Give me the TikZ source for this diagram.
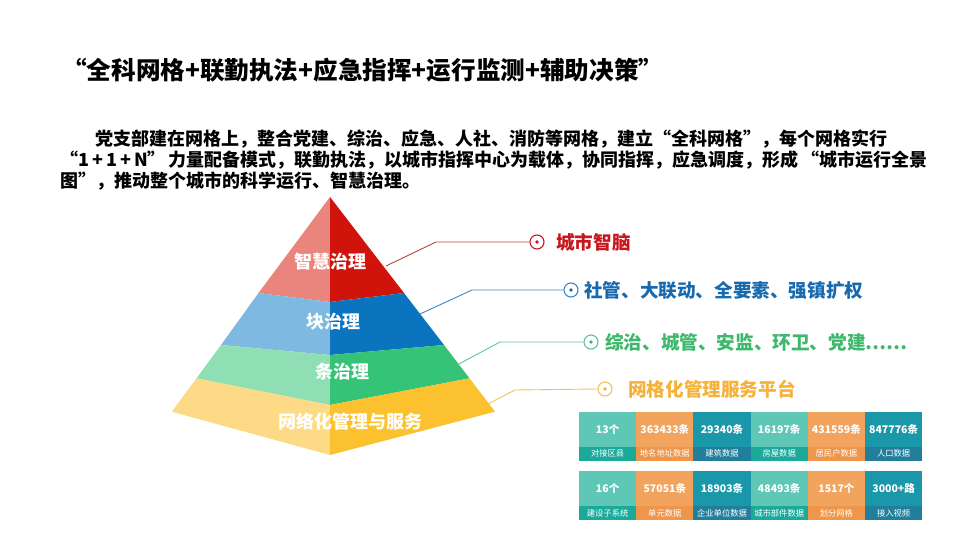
\documentclass[tikz,border=0pt]{standalone}
\usepackage{fontspec}
\setmainfont{Noto Sans CJK SC}
\definecolor{redL}{HTML}{E9857C}
\definecolor{redR}{HTML}{D0140C}
\definecolor{bluL}{HTML}{7DB9E0}
\definecolor{bluR}{HTML}{0A74BF}
\definecolor{grnL}{HTML}{90DEB3}
\definecolor{grnR}{HTML}{35C377}
\definecolor{ylwL}{HTML}{FDDB86}
\definecolor{ylwR}{HTML}{FBC12E}
\definecolor{redT}{HTML}{C8161D}
\definecolor{bluT}{HTML}{1769B0}
\definecolor{grnT}{HTML}{3DB86C}
\definecolor{ylwT}{HTML}{F4B23A}
\definecolor{redLn}{HTML}{B9433C}
\definecolor{bluLn}{HTML}{3C88C6}
\definecolor{grnLn}{HTML}{5EC49C}
\definecolor{ylwLn}{HTML}{F5C05A}
\definecolor{tA}{HTML}{5EC7B6}
\definecolor{tAd}{HTML}{1BA99A}
\definecolor{tB}{HTML}{F2A35E}
\definecolor{tBd}{HTML}{EE974C}
\definecolor{tC}{HTML}{1A98AA}
\definecolor{tCd}{HTML}{217F9C}
\begin{document}
\begin{tikzpicture}[x=1pt,y=-1pt,
  ptxt/.style={anchor=west,inner sep=0pt,font=\fontsize{18}{20}\selectfont\bfseries},
  layertxt/.style={text=white,inner sep=0pt,font=\fontsize{18}{20}\selectfont\bfseries},
  ring/.style={circle,draw=#1,line width=1.1pt,fill=white,minimum size=14pt,inner sep=0pt},
  sidetxt/.style={anchor=west,inner sep=0pt,text=#1,font=\fontsize{18.6}{20}\selectfont\bfseries},
  conn/.style={draw=#1,line width=0.9pt},
  cellnum/.style={minimum width=57.2pt,minimum height=35pt,inner sep=0pt,text=white,font=\fontsize{10.5}{12}\selectfont\bfseries},
  celllab/.style={minimum width=57.2pt,minimum height=14pt,inner sep=0pt,text=white,font=\fontsize{8.3}{9}\selectfont}
]
\useasboundingbox (0,0) rectangle (960,540);
\fill[white] (0,0) rectangle (960,540);

% title
\node[anchor=west,inner sep=0pt,font=\fontsize{24.6}{28}\selectfont\bfseries] (title) at (62,70)
  {“全科网格+联勤执法+应急指挥+运行监测+辅助决策”};

% paragraph
\node[ptxt] (p1) at (95,139) {党支部建在网格上，整合党建、综治、应急、人社、消防等网格，建立“全科网格”，每个网格实行};
\node[ptxt] (p2) at (60,160) {“1\,+\,1\,+\,N”\,力量配备模式，联勤执法，以城市指挥中心为载体，协同指挥，应急调度，形成\,“城市运行全景};
\node[ptxt] (p3) at (60,181) {图”，推动整个城市的科学运行、智慧治理。};

% pyramid geometry
\coordinate (A) at (330,197);
\coordinate (L1) at (258.5,293); \coordinate (R1) at (404,293); \coordinate (C1) at (330,302);
\coordinate (L2) at (221,345);   \coordinate (R2) at (444,345); \coordinate (C2) at (330,355);
\coordinate (L3) at (196.5,378.3); \coordinate (R3) at (469.5,378.3); \coordinate (C3) at (330,405);
\coordinate (L4) at (171.7,411.7); \coordinate (R4) at (495,411.7); \coordinate (C4) at (330,455);

\fill[redL] (A) -- (L1) -- (C1) -- cycle;
\fill[redR] (A) -- (R1) -- (C1) -- cycle;
\fill[bluL] (L1) -- (L2) -- (C2) -- (C1) -- cycle;
\fill[bluR] (R1) -- (R2) -- (C2) -- (C1) -- cycle;
\fill[grnL] (L2) -- (L3) -- (C3) -- (C2) -- cycle;
\fill[grnR] (R2) -- (R3) -- (C3) -- (C2) -- cycle;
\fill[ylwL] (L3) -- (L4) -- (C4) -- (C3) -- cycle;
\fill[ylwR] (R3) -- (R4) -- (C4) -- (C3) -- cycle;

\node[layertxt] (lay1) at (330,262) {智慧治理};
\node[layertxt] (lay2) at (333,322) {块治理};
\node[layertxt] (lay3) at (342,371.5) {条治理};
\node[layertxt] (lay4) at (350,421.5) {网络化管理与服务};

% connectors
\coordinate (r0) at (386,266); \coordinate (r1) at (436,242);
\coordinate (b0) at (420,314); \coordinate (b1) at (472,290);
\coordinate (g0) at (457,365); \coordinate (g1) at (500,342);
\coordinate (y0) at (488,404); \coordinate (y1) at (515,390);

\node[ring=redT] (rc) at (537,242) {};
\node[ring=bluLn] (bc) at (571,290) {};
\node[ring=grnLn] (gc) at (591,342) {};
\node[ring=ylwLn] (yc) at (605,389) {};
\fill[redT] (rc) circle (1.8pt);
\fill[bluT] (bc) circle (1.8pt);
\fill[grnT] (gc) circle (1.8pt);
\fill[ylwT] (yc) circle (1.8pt);

\draw[conn=redLn] (r0) -- (r1) -- (rc.west);
\draw[conn=bluLn] (b0) -- (b1) -- (bc.west);
\draw[conn=grnLn] (g0) -- (g1) -- (gc.west);
\draw[conn=ylwLn] (y0) -- (y1) -- (yc.west);

\node[sidetxt=redT] (rt) at (556,242) {城市智脑};
\node[sidetxt=bluT] (bt) at (584,290) {社管、大联动、全要素、强镇扩权};
\node[sidetxt=grnT] (gt) at (605,342) {综治、城管、安监、环卫、党建……};
\node[sidetxt=ylwT] (yt) at (628,389) {网格化管理服务平台};

% tables
\foreach \i/\num/\lab/\ct/\cb in {1/13个/对接区县/tA/tAd, 2/363433条/地名地址数据/tB/tBd, 3/29340条/建筑数据/tC/tCd, 4/16197条/房屋数据/tA/tAd, 5/431559条/居民户数据/tB/tBd, 6/847776条/人口数据/tC/tCd} {
  \node[cellnum,fill=\ct] (na\i) at ({579+57.2*(\i-1)+28.6},429.2) {\num};
  \node[celllab,fill=\cb] (la\i) at ({579+57.2*(\i-1)+28.6},453.7) {\lab};
}
\foreach \i/\num/\lab/\ct/\cb in {1/16个/建设子系统/tA/tAd, 2/57051条/单元数据/tB/tBd, 3/18903条/企业单位数据/tC/tCd, 4/48493条/城市部件数据/tA/tAd, 5/1517个/划分网格/tB/tBd, 6/3000+路/接入视频/tC/tCd} {
  \node[cellnum,fill=\ct] (nb\i) at ({579+57.2*(\i-1)+28.6},488.5) {\num};
  \node[celllab,fill=\cb] (lb\i) at ({579+57.2*(\i-1)+28.6},513) {\lab};
}
\end{tikzpicture}
\end{document}
